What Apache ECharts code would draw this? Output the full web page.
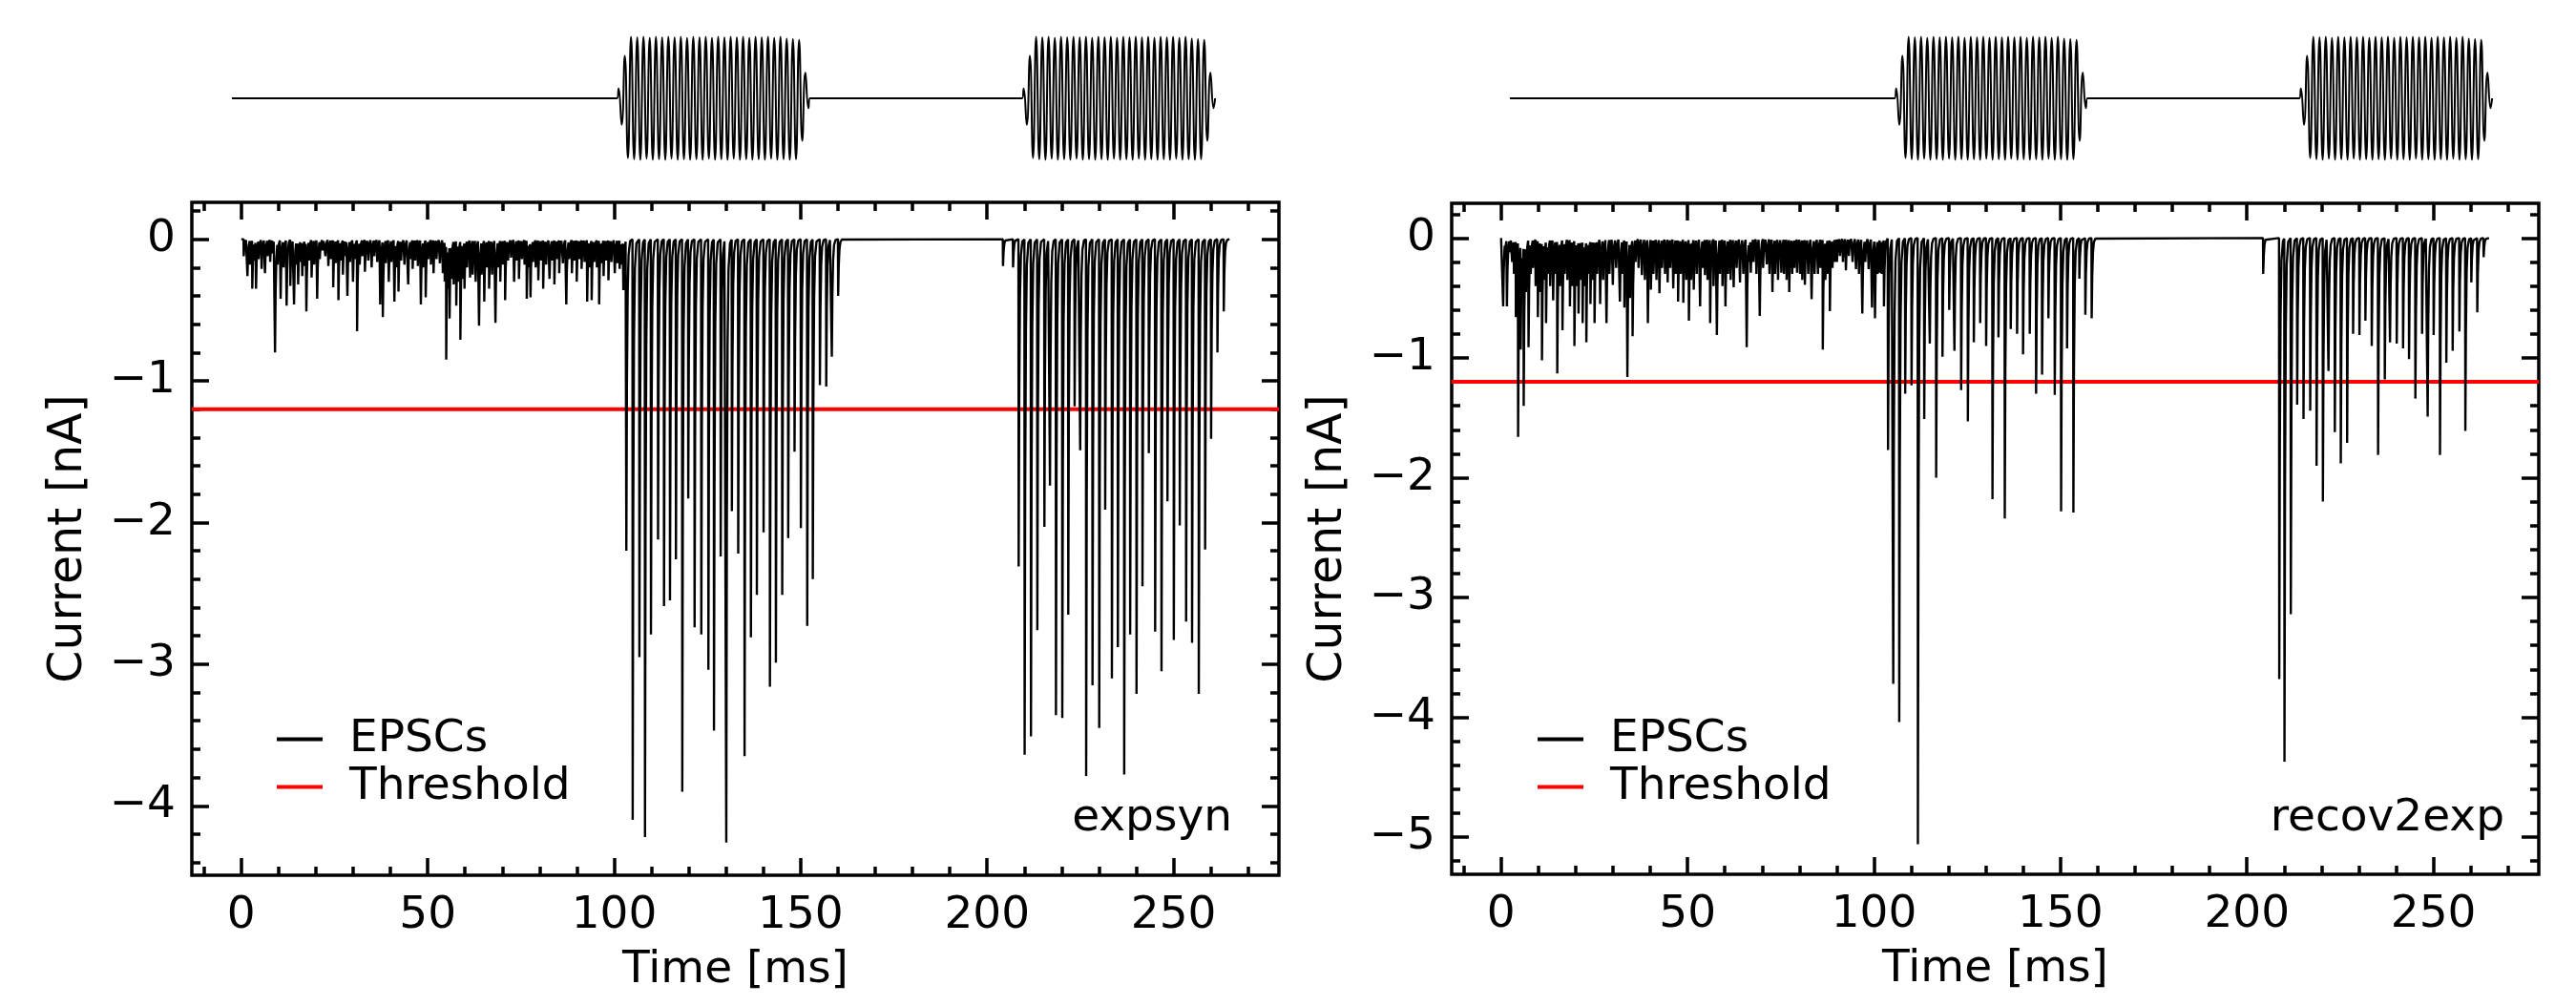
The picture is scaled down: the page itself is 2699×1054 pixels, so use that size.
<!DOCTYPE html>
<html>
<head>
<meta charset="utf-8">
<script src="https://cdn.jsdelivr.net/npm/echarts@6/dist/echarts.min.js"></script>
<style>
html,body{margin:0;padding:0;background:#fff;}
#c{width:2699px;height:1054px;}
</style>
</head>
<body>
<div id="c"></div>
<script>
// ---------------- data ----------------
const panelLabels = ['expsyn', 'recov2exp'];
const xTitle = 'Time [ms]';
const yTitle = 'Current [nA]';
const legendNames = ['EPSCs', 'Threshold'];
const xTicks = [0, 50, 100, 150, 200, 250];
const xMinorTicks = [-10, 10, 20, 30, 40, 60, 70, 80, 90, 110, 120, 130, 140, 160, 170, 180, 190, 210, 220, 230, 240, 260, 270];
const yTicksExpsyn = [-4, -3, -2, -1, 0];
const yMinorExpsyn = [-4.4, -4.2, -3.8, -3.6, -3.4, -3.2, -2.8, -2.6, -2.4, -2.2, -1.8, -1.6, -1.4, -1.2, -0.8, -0.6, -0.4, -0.2, 0.2];
const yTicksRecov = [-5, -4, -3, -2, -1, 0];
const yMinorRecov = [-5.2, -4.8, -4.6, -4.4, -4.2, -3.8, -3.6, -3.4, -3.2, -2.8, -2.6, -2.4, -2.2, -1.8, -1.6, -1.4, -1.2, -0.8, -0.6, -0.4, -0.2, 0.2];
const xRange = [-13.25, 278.25];
const yRangeExpsyn = [-4.49, 0.26];
const yRangeRecov = [-5.31, 0.29];
const thresholdValue = -1.2;

// EPSC event onset times [ms] and peak amplitudes [nA] (negative-going), panel "expsyn"
const expsynTimes = [
0.6,1.6,2.3,2.9,3.4,3.9,4.6,5.4,6.3,7.0,7.7,8.3,9.0,9.7,10.5,11.3,12.1,13.1,14.1,14.7,15.2,15.8,16.3,16.9,17.4,18.1,18.8,19.5,20.3,21.0,
21.7,22.5,23.3,24.0,24.6,25.3,26.0,26.6,27.2,27.8,28.4,29.1,29.9,30.4,31.0,31.7,32.4,33.1,34.0,34.9,35.6,36.4,37.2,37.9,38.7,39.5,40.2,41.0,41.5,42.1,
42.8,43.7,44.7,45.3,45.9,46.6,47.3,48.1,48.7,49.4,50.1,50.8,51.5,52.3,53.2,54.0,54.5,54.9,55.4,55.8,56.3,56.9,57.6,58.1,58.7,59.3,59.8,60.5,61.3,62.0,
62.8,63.7,64.4,65.1,65.8,66.4,67.2,68.1,68.8,69.4,70.1,70.7,71.5,72.3,73.1,73.8,74.4,75.2,75.9,76.5,77.0,77.5,78.2,78.9,79.6,80.3,80.9,81.7,82.6,83.3,
83.9,84.6,85.2,86.2,87.1,87.9,88.6,89.3,89.9,90.6,91.2,92.0,92.7,93.3,93.9,94.6,95.3,95.9,96.5,97.1,97.8,98.4,99.2,100.1,100.8,101.4,101.9,102.4,
103.2,104.9,106.7,108.2,109.8,111.7,113.3,114.9,116.5,118.2,119.8,121.5,123.3,125.2,126.7,128.5,130.0,131.5,133.2,134.9,136.6,138.2,140.0,141.7,143.3,145.0,146.6,148.3,150.0,151.7,
153.2,155.1,156.8,158.3,160.0,
204.2,206.9,208.4,210.0,211.7,213.4,215.3,216.8,218.4,220.1,221.7,223.4,224.9,226.5,228.2,230.0,231.6,233.4,235.0,236.7,238.3,240.0,241.6,243.3,245.0,246.7,248.3,250.0,251.6,253.3,
254.9,256.7,258.4,260.0,261.7,263.4
];
const expsynAmps = [
0.12,0.26,0.18,0.35,0.15,0.35,0.14,0.21,0.24,0.12,0.16,0.10,0.80,0.18,0.42,0.20,0.47,0.33,0.46,0.18,0.32,0.16,0.26,0.19,0.51,0.15,0.27,0.18,0.42,0.14,
0.08,0.12,0.19,0.14,0.34,0.17,0.43,0.15,0.25,0.12,0.40,0.16,0.30,0.14,0.65,0.18,0.12,0.23,0.15,0.20,0.12,0.16,0.46,0.55,0.17,0.30,0.16,0.44,0.20,0.37,
0.15,0.18,0.32,0.14,0.21,0.15,0.19,0.46,0.20,0.41,0.14,0.18,0.24,0.14,0.17,0.24,0.30,0.85,0.35,0.56,0.28,0.32,0.47,0.30,0.71,0.28,0.35,0.20,0.27,0.25,
0.30,0.61,0.25,0.44,0.20,0.35,0.25,0.59,0.20,0.30,0.18,0.43,0.15,0.13,0.30,0.15,0.28,0.14,0.18,0.42,0.20,0.41,0.16,0.20,0.29,0.15,0.35,0.18,0.28,0.15,
0.32,0.14,0.24,0.17,0.46,0.14,0.24,0.15,0.30,0.14,0.21,0.16,0.44,0.20,0.43,0.16,0.20,0.46,0.17,0.26,0.15,0.29,0.16,0.24,0.17,0.21,0.18,0.36,
2.20,4.10,2.95,4.22,2.79,2.12,2.59,2.55,2.26,3.90,1.83,2.74,2.79,3.04,3.47,2.24,4.26,1.92,2.22,3.65,2.81,2.51,2.07,3.16,2.99,2.51,2.11,1.50,2.04,2.73,
2.40,1.03,1.04,0.83,0.40,
0.19,0.20,2.31,3.64,3.51,2.76,2.03,1.74,3.36,3.38,2.65,1.18,1.49,3.79,3.15,3.45,1.91,3.10,2.88,3.78,2.79,3.21,2.45,1.51,2.77,3.05,1.85,2.83,2.02,2.70,
2.85,3.21,2.19,1.41,0.80,0.51
];
const expsynEnd = 265.0;

// EPSC event onset times [ms] and peak amplitudes [nA], panel "recov2exp"
const recovTimes = [
0.5,1.0,1.5,2.2,2.9,3.4,3.9,4.5,5.2,5.6,6.0,6.6,7.3,7.9,8.5,9.2,9.8,10.4,10.9,11.5,12.0,12.5,13.1,13.9,14.5,15.0,15.7,16.4,17.0,17.7,
18.4,19.0,19.6,20.2,20.7,21.3,21.8,22.3,22.8,23.4,23.9,24.5,25.0,25.7,26.5,27.3,28.2,29.0,29.9,30.8,31.8,32.4,33.0,33.8,34.5,35.2,36.0,36.8,37.7,38.5,
39.3,40.1,40.8,41.6,42.4,43.1,43.9,44.6,45.3,46.1,46.8,47.4,48.1,48.8,49.6,50.3,50.9,51.6,52.4,53.3,54.0,54.6,55.3,56.0,56.9,57.8,58.6,59.3,60.1,60.8,
61.5,62.3,63.1,64.0,64.9,65.8,66.4,66.9,67.6,68.4,69.3,70.2,71.2,71.9,72.7,73.4,74.2,75.1,75.8,76.5,77.2,78.0,78.6,79.3,80.1,80.7,81.4,82.3,83.2,84.0,
84.9,85.6,86.2,86.9,87.5,88.1,88.8,89.4,90.0,90.8,91.6,92.4,93.2,94.2,95.1,95.9,96.8,97.6,98.5,99.4,100.2,100.9,101.5,102.0,102.6,
103.7,105.1,106.7,108.3,110.0,111.7,113.4,114.9,116.6,118.3,120.1,121.5,123.3,125.1,126.7,128.4,130.0,131.7,133.3,135.0,136.6,138.3,139.9,141.7,143.4,145.0,146.7,148.4,150.1,151.7,
153.4,155.0,156.6,158.3,
204.3,208.6,210.0,211.7,213.4,215.1,216.9,218.6,220.3,221.8,223.5,225.1,226.8,228.4,230.1,231.7,233.4,235.1,236.9,238.3,240.1,241.8,243.4,245.1,246.9,248.4,250.0,251.7,253.4,255.1,
256.9,258.5,260.1,261.7,263.4
];
const recovAmps = [
0.57,0.15,0.57,0.12,0.20,0.30,0.66,1.66,0.93,0.50,1.40,0.45,0.91,0.30,0.25,0.40,0.66,0.45,1.02,0.35,0.71,0.30,0.40,0.52,0.30,1.13,0.40,0.77,0.30,0.35,
0.57,0.40,0.90,0.40,0.63,0.35,0.71,0.40,0.87,0.30,0.55,0.35,0.71,0.30,0.55,0.35,0.71,0.30,0.39,0.25,0.53,0.30,0.58,1.16,0.50,0.82,0.20,0.25,0.31,0.35,
0.71,0.43,0.30,0.35,0.46,0.25,0.30,0.37,0.25,0.42,0.30,0.53,0.30,0.54,0.35,0.69,0.35,0.43,0.30,0.57,0.25,0.31,0.35,0.71,0.40,0.81,0.30,0.40,0.57,0.30,
0.35,0.41,0.25,0.37,0.30,0.91,0.20,0.29,0.20,0.30,0.65,0.25,0.22,0.30,0.45,0.30,0.35,0.29,0.30,0.35,0.45,0.30,0.25,0.29,0.30,0.35,0.39,0.30,0.51,0.30,
0.30,0.25,0.93,0.35,0.30,0.61,0.25,0.20,0.20,0.15,0.20,0.27,0.15,0.20,0.26,0.30,0.63,0.20,0.26,0.58,0.67,0.30,0.29,0.30,0.57,
1.77,3.72,4.04,1.30,1.23,5.06,1.51,0.88,2.00,0.99,0.60,0.94,1.27,1.53,0.87,0.71,0.90,2.18,0.83,2.34,0.76,0.80,0.97,0.80,1.30,1.14,0.67,1.31,2.28,0.92,
2.29,0.34,0.64,0.67,
0.30,3.68,4.37,3.14,1.39,1.51,1.44,1.90,2.20,1.11,1.62,1.88,1.71,0.80,0.81,0.69,0.90,1.81,1.18,0.87,0.88,0.92,1.01,1.34,0.80,1.49,0.81,1.81,1.04,0.94,
0.78,1.61,0.37,0.62,0.16
];
const recovEnd = 264.9;

// Stimulus (top traces): burst onsets, half-cycle spacing, and each half-cycle's extreme (normalised)
const stimRange = [0, 265.5];
const stimOnsets = [103.9, 213.2];
const stimHalfPeriod = 0.84;
const stimAmps = [
0.16,-0.43,0.69,-0.97,
1.00,-0.99,0.99,-1.00,1.00,-0.98,0.98,-1.00,1.00,-0.99,
0.99,-1.00,1.00,-0.98,0.99,-1.00,1.00,-0.99,0.98,-1.00,
1.00,-0.99,0.99,-1.00,1.00,-0.98,0.98,-1.00,1.00,-0.99,
0.99,-1.00,1.00,-0.98,0.99,-1.00,1.00,-0.99,0.98,-1.00,
1.00,-0.99,0.99,-1.00,1.00,-0.98,0.98,-1.00,1.00,-0.99,
0.97,-1.00,0.96,-0.99,0.95,
-0.69,0.42,-0.16
];

// ---------------- building the chart ----------------
const FONT = 'DejaVu Sans';
const FS = 47;
const BLACK = '#000000';

function buildTrace(times, amps, tEnd) {
  const tau = 0.2, rise = 0.06;
  const steps = [0.15, 0.35, 0.6, 1.0];
  const pts = [[0, 0]];
  let prevT = null, prevA = 0;
  for (let i = 0; i < times.length; i++) {
    const t = times[i], a = amps[i];
    const next = i + 1 < times.length ? times[i + 1] : tEnd;
    const lvl = prevT === null ? 0 : -prevA * Math.exp(-(t - prevT) / tau);
    pts.push([t, lvl]);
    const tp = t + rise;
    pts.push([tp, -a]);
    for (const d of steps) {
      if (tp + d < next - 0.03) pts.push([tp + d, -a * Math.exp(-d / tau)]);
    }
    prevT = tp; prevA = a;
  }
  pts.push([tEnd, 0]);
  return pts;
}

function buildStim() {
  const pts = [[0, 0]];
  stimOnsets.forEach(on => {
    pts.push([on, 0]);
    stimAmps.forEach((v, k) => pts.push([on + (k + 0.5) * stimHalfPeriod, v]));
    const end = on + stimAmps.length * stimHalfPeriod;
    if (end < stimRange[1]) pts.push([end, 0]);
  });
  return pts;
}

const tickLine = { color: BLACK, width: 3.5 };
const labelFont = { color: BLACK, fontSize: FS, fontFamily: FONT };
const noLine = { show: false, onZero: false };

function xAxesFor(grid) {
  const base = { gridIndex: grid, type: 'value', min: xRange[0], max: xRange[1],
    axisLine: noLine, splitLine: { show: false }, minorTick: { show: false } };
  return [
    Object.assign({}, base, { position: 'bottom', name: xTitle, nameLocation: 'middle', nameGap: 76,
      nameTextStyle: labelFont,
      axisTick: { show: true, inside: true, length: 18, lineStyle: tickLine, customValues: xTicks },
      axisLabel: Object.assign({ show: true, customValues: xTicks, margin: 19 }, labelFont) }),
    Object.assign({}, base, { position: 'bottom',
      axisTick: { show: true, inside: true, length: 9, lineStyle: tickLine, customValues: xMinorTicks },
      axisLabel: { show: false } }),
    Object.assign({}, base, { position: 'top',
      axisTick: { show: true, inside: true, length: 18, lineStyle: tickLine, customValues: xTicks },
      axisLabel: { show: false } }),
    Object.assign({}, base, { position: 'top',
      axisTick: { show: true, inside: true, length: 9, lineStyle: tickLine, customValues: xMinorTicks },
      axisLabel: { show: false } })
  ];
}

function yAxesFor(grid, range, majors, minors) {
  const base = { gridIndex: grid, type: 'value', min: range[0], max: range[1],
    axisLine: noLine, splitLine: { show: false }, minorTick: { show: false } };
  const fmt = v => (v < 0 ? '\u2212' + (-v) : String(v));
  return [
    Object.assign({}, base, { position: 'left', name: yTitle, nameLocation: 'middle', nameGap: 104,
      nameTextStyle: Object.assign({}, labelFont, { fontSize: 49 }),
      axisTick: { show: true, inside: true, length: 18, lineStyle: tickLine, customValues: majors },
      axisLabel: Object.assign({ show: true, customValues: majors, margin: 17, formatter: fmt }, labelFont) }),
    Object.assign({}, base, { position: 'left',
      axisTick: { show: true, inside: true, length: 9, lineStyle: tickLine, customValues: minors },
      axisLabel: { show: false } }),
    Object.assign({}, base, { position: 'right',
      axisTick: { show: true, inside: true, length: 18, lineStyle: tickLine, customValues: majors },
      axisLabel: { show: false } }),
    Object.assign({}, base, { position: 'right',
      axisTick: { show: true, inside: true, length: 9, lineStyle: tickLine, customValues: minors },
      axisLabel: { show: false } })
  ];
}

const frame = { show: true, borderColor: BLACK, borderWidth: 3.5, backgroundColor: 'transparent', outerBoundsMode: 'none' };
const hiddenAxis = (grid, range) => ({ gridIndex: grid, type: 'value', show: false, min: range[0], max: range[1],
  axisLine: noLine });

const stimData = buildStim();

const option = {
  animation: false,
  backgroundColor: '#ffffff',
  textStyle: { fontFamily: FONT },
  grid: [
    Object.assign({ left: 201, top: 212, width: 1139, height: 705 }, frame),
    Object.assign({ left: 1521, top: 213, width: 1139, height: 703 }, frame),
    { left: 243, top: 38.5, width: 1031, height: 129, show: false, outerBoundsMode: 'none' },
    { left: 1582, top: 38.5, width: 1030, height: 129, show: false, outerBoundsMode: 'none' }
  ],
  xAxis: [].concat(xAxesFor(0), xAxesFor(1), [hiddenAxis(2, stimRange), hiddenAxis(3, stimRange)]),
  yAxis: [].concat(
    yAxesFor(0, yRangeExpsyn, yTicksExpsyn, yMinorExpsyn),
    yAxesFor(1, yRangeRecov, yTicksRecov, yMinorRecov),
    [hiddenAxis(2, [-1, 1]), hiddenAxis(3, [-1, 1])]
  ),
  legend: [0, 1].map(i => ({
    left: i === 0 ? 290 : 1611, top: 751, orient: 'vertical', padding: 0,
    itemWidth: 48, itemHeight: 4, itemGap: 3, selectedMode: false,
    icon: 'rect',
    data: legendNames,
    textStyle: { color: BLACK, fontSize: FS, fontFamily: FONT, padding: [0, 0, 0, 23] }
  })),
  title: [
    { text: panelLabels[0], right: 1408, top: 834, padding: 0,
      textStyle: { color: BLACK, fontSize: FS, fontWeight: 'normal', fontFamily: FONT } },
    { text: panelLabels[1], right: 75, top: 834, padding: 0,
      textStyle: { color: BLACK, fontSize: FS, fontWeight: 'normal', fontFamily: FONT } }
  ],
  series: [
    { type: 'line', name: legendNames[1], xAxisIndex: 0, yAxisIndex: 0, z: 2, symbol: 'none',
      data: [[xRange[0], thresholdValue], [xRange[1], thresholdValue]],
      lineStyle: { color: '#ff0000', width: 4 }, itemStyle: { color: '#ff0000' } },
    { type: 'line', name: legendNames[0], xAxisIndex: 0, yAxisIndex: 0, z: 3, symbol: 'none',
      data: buildTrace(expsynTimes, expsynAmps, expsynEnd),
      lineStyle: { color: BLACK, width: 2.4 }, itemStyle: { color: BLACK } },
    { type: 'line', name: legendNames[1], xAxisIndex: 4, yAxisIndex: 4, z: 2, symbol: 'none',
      data: [[xRange[0], thresholdValue], [xRange[1], thresholdValue]],
      lineStyle: { color: '#ff0000', width: 4 }, itemStyle: { color: '#ff0000' } },
    { type: 'line', name: legendNames[0], xAxisIndex: 4, yAxisIndex: 4, z: 3, symbol: 'none',
      data: buildTrace(recovTimes, recovAmps, recovEnd),
      lineStyle: { color: BLACK, width: 2.4 }, itemStyle: { color: BLACK } },
    { type: 'line', name: 'stimulus-left', xAxisIndex: 8, yAxisIndex: 8, symbol: 'none', smooth: 0.5,
      data: stimData, lineStyle: { color: BLACK, width: 2 } },
    { type: 'line', name: 'stimulus-right', xAxisIndex: 9, yAxisIndex: 9, symbol: 'none', smooth: 0.5,
      data: stimData, lineStyle: { color: BLACK, width: 2 } }
  ]
};

const chart = echarts.init(document.getElementById('c'), null, { renderer: 'canvas', width: 2699, height: 1054 });
chart.setOption(option);
</script>
</body>
</html>
